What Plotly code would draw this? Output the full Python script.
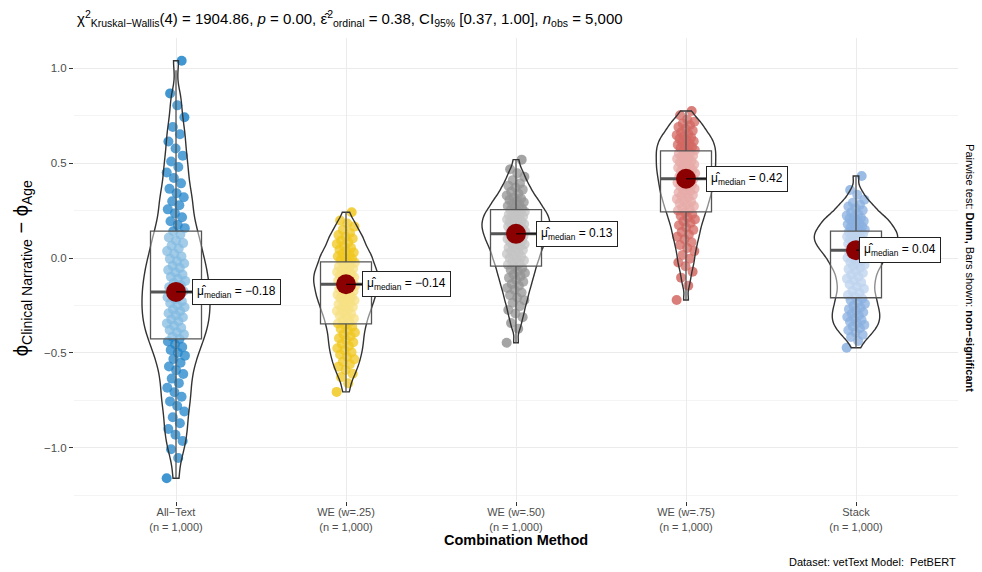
import plotly.graph_objects as go

# ---------------- data ----------------
categories = ["All−Text", "WE (w=.25)", "WE (w=.50)", "WE (w=.75)", "Stack"]
n_per_group = [1000, 1000, 1000, 1000, 1000]

# estimated sample percentiles per group (min, 1%, 2%, ..., 99%, max)
all_text_vals = [-1.16, -1.053, -1.007, -0.964, -0.931, -0.901, -0.870, -0.839, -0.808, -0.779,
                 -0.755, -0.731, -0.707, -0.683, -0.659, -0.635, -0.611, -0.591, -0.571, -0.551,
                 -0.532, -0.514, -0.499, -0.484, -0.469, -0.454, -0.439, -0.426, -0.414, -0.402,
                 -0.391, -0.379, -0.367, -0.356, -0.344, -0.333, -0.323, -0.312, -0.301, -0.291,
                 -0.280, -0.270, -0.259, -0.249, -0.238, -0.227, -0.216, -0.206, -0.195, -0.185,
                 -0.175, -0.164, -0.153, -0.142, -0.131, -0.120, -0.109, -0.098, -0.087, -0.075,
                 -0.063, -0.052, -0.040, -0.028, -0.016, -0.004, 0.009, 0.023, 0.037, 0.051,
                 0.065, 0.079, 0.093, 0.109, 0.125, 0.142, 0.158, 0.175, 0.194, 0.215,
                 0.236, 0.257, 0.279, 0.300, 0.321, 0.342, 0.365, 0.394, 0.422, 0.451,
                 0.480, 0.509, 0.540, 0.578, 0.615, 0.653, 0.691, 0.742, 0.805, 0.868, 1.04]
we25_vals = [-0.705, -0.660, -0.627, -0.609, -0.590, -0.572, -0.559, -0.546, -0.533, -0.520,
             -0.508, -0.496, -0.485, -0.475, -0.464, -0.453, -0.443, -0.432, -0.422, -0.412,
             -0.402, -0.392, -0.382, -0.372, -0.362, -0.353, -0.345, -0.336, -0.328, -0.319,
             -0.311, -0.302, -0.293, -0.286, -0.279, -0.272, -0.265, -0.258, -0.251, -0.244,
             -0.237, -0.230, -0.223, -0.217, -0.211, -0.205, -0.199, -0.193, -0.187, -0.181,
             -0.175, -0.169, -0.163, -0.157, -0.151, -0.145, -0.140, -0.134, -0.129, -0.123,
             -0.118, -0.112, -0.107, -0.101, -0.096, -0.090, -0.084, -0.079, -0.073, -0.067,
             -0.062, -0.056, -0.051, -0.044, -0.037, -0.031, -0.024, -0.017, -0.011, -0.004,
             0.003, 0.010, 0.017, 0.023, 0.030, 0.037, 0.045, 0.055, 0.064, 0.074,
             0.083, 0.093, 0.103, 0.113, 0.122, 0.133, 0.150, 0.166, 0.182, 0.198, 0.242]
we50_vals = [-0.446, -0.372, -0.342, -0.311, -0.292, -0.273, -0.253, -0.235, -0.222, -0.208,
             -0.195, -0.181, -0.167, -0.157, -0.146, -0.136, -0.125, -0.115, -0.104, -0.095,
             -0.086, -0.078, -0.069, -0.061, -0.052, -0.044, -0.035, -0.027, -0.019, -0.012,
             -0.006, 0.001, 0.008, 0.015, 0.022, 0.029, 0.036, 0.043, 0.049, 0.055,
             0.061, 0.067, 0.073, 0.078, 0.084, 0.090, 0.096, 0.101, 0.106, 0.111,
             0.116, 0.121, 0.126, 0.132, 0.137, 0.142, 0.147, 0.152, 0.156, 0.161,
             0.166, 0.170, 0.175, 0.180, 0.184, 0.189, 0.194, 0.199, 0.204, 0.209,
             0.214, 0.219, 0.224, 0.229, 0.234, 0.239, 0.244, 0.249, 0.253, 0.261,
             0.267, 0.274, 0.281, 0.287, 0.294, 0.301, 0.307, 0.314, 0.320, 0.330,
             0.340, 0.351, 0.361, 0.372, 0.382, 0.393, 0.411, 0.429, 0.447, 0.468, 0.519]
we75_vals = [-0.221, -0.145, -0.103, -0.072, -0.043, -0.023, -0.003, 0.017, 0.037, 0.053,
             0.069, 0.084, 0.099, 0.113, 0.125, 0.137, 0.149, 0.161, 0.173, 0.185,
             0.194, 0.204, 0.213, 0.223, 0.232, 0.241, 0.251, 0.259, 0.266, 0.274,
             0.282, 0.289, 0.297, 0.304, 0.312, 0.320, 0.327, 0.333, 0.340, 0.346,
             0.353, 0.359, 0.366, 0.373, 0.379, 0.386, 0.392, 0.398, 0.404, 0.411,
             0.417, 0.423, 0.429, 0.435, 0.441, 0.447, 0.453, 0.459, 0.465, 0.471,
             0.476, 0.482, 0.488, 0.494, 0.499, 0.505, 0.511, 0.517, 0.523, 0.528,
             0.534, 0.540, 0.546, 0.551, 0.557, 0.563, 0.569, 0.574, 0.580, 0.586,
             0.592, 0.597, 0.603, 0.610, 0.616, 0.622, 0.629, 0.635, 0.642, 0.648,
             0.654, 0.663, 0.672, 0.682, 0.691, 0.700, 0.710, 0.719, 0.731, 0.753, 0.775]
stack_vals = [-0.472, -0.437, -0.416, -0.404, -0.392, -0.380, -0.369, -0.360, -0.352, -0.343,
              -0.335, -0.326, -0.318, -0.310, -0.302, -0.293, -0.285, -0.277, -0.269, -0.260,
              -0.251, -0.241, -0.232, -0.222, -0.213, -0.204, -0.194, -0.183, -0.172, -0.161,
              -0.150, -0.139, -0.128, -0.118, -0.108, -0.098, -0.088, -0.078, -0.068, -0.058,
              -0.050, -0.042, -0.035, -0.028, -0.020, -0.013, -0.006, 0.002, 0.009, 0.016,
              0.022, 0.027, 0.033, 0.038, 0.044, 0.050, 0.055, 0.061, 0.066, 0.071,
              0.076, 0.080, 0.085, 0.090, 0.094, 0.099, 0.104, 0.108, 0.113, 0.118,
              0.122, 0.127, 0.132, 0.137, 0.141, 0.146, 0.150, 0.155, 0.161, 0.166,
              0.172, 0.178, 0.184, 0.189, 0.195, 0.201, 0.207, 0.212, 0.218, 0.224,
              0.232, 0.242, 0.252, 0.262, 0.272, 0.282, 0.292, 0.308, 0.334, 0.359, 0.433]

# box statistics
q1 = [-0.426, -0.347, -0.042, 0.244, -0.209]
medians = [-0.178, -0.138, 0.128, 0.418, 0.042]
q3 = [0.142, -0.020, 0.256, 0.565, 0.142]
lower_whisker = [-1.16, -0.705, -0.446, -0.221, -0.472]
upper_whisker = [0.99, 0.242, 0.519, 0.775, 0.433]

title_text = ("χ<sup>2</sup><sub>Kruskal−Wallis</sub>(4) = 1904.86, <i>p</i> = 0.00, "
              "ε̂<sup>2</sup><sub>ordinal</sub> = 0.38, CI<sub>95%</sub> [0.37, 1.00], "
              "<i>n</i><sub>obs</sub> = 5,000")
y_title = "ϕ<sub>Clinical Narrative</sub> − ϕ<sub>Age</sub>"
x_title = "<b>Combination Method</b>"
side_text = "Pairwise test: <b>Dunn,</b> Bars shown: <b>non−significant</b>"
caption = "Dataset: vetText Model:  PetBERT"

# ---------------- styling ----------------
groups = [all_text_vals, we25_vals, we50_vals, we75_vals, stack_vals]
colors = ["#0073C2", "#EFC000", "#868686", "#CD534C", "#7AA6DC"]
bandwidths = [0.06, 0.032, 0.03, 0.03, 0.03]
violin_widths = [0.4, 0.38, 0.4, 0.35, 0.49]   # full width of each violin (x units)
label_offsets = [16, 16, 20, 20, 3]
FONT = "Liberation Sans, Arial, sans-serif"
positions = list(range(1, len(categories) + 1))
jitter_half = 0.055
box_half = 0.15
XR = [0.4, 5.6]
YR = [-1.28, 1.16]

fig = go.Figure()

# jittered points (base axes, drawn underneath)
for pos, vals, col in zip(positions, groups, colors):
    offs = [((k * 0.6180339887) % 1.0 - 0.5) * 2 * jitter_half for k in range(len(vals))]
    fig.add_trace(go.Scatter(
        x=[pos + o for o in offs], y=vals, mode="markers",
        marker=dict(size=10, color=col, opacity=0.75, line=dict(width=0)),
        showlegend=False, hoverinfo="skip", xaxis="x", yaxis="y"))

# violins (overlay axes), each scaled on its own
for i, (pos, vals, bw, w) in enumerate(zip(positions, groups, bandwidths, violin_widths)):
    fig.add_trace(go.Violin(
        x=[pos] * len(vals), y=vals, width=w, scalemode="width", scalegroup=f"v{i}",
        spanmode="hard", bandwidth=bw, points=False,
        line=dict(color="#333333", width=1.4), fillcolor="rgba(255,255,255,0.12)",
        box=dict(visible=False), meanline=dict(visible=False),
        showlegend=False, hoverinfo="skip", xaxis="x2", yaxis="y2"))

# boxes
for i, pos in enumerate(positions):
    fig.add_trace(go.Box(
        x=[pos], q1=[q1[i]], median=[medians[i]], q3=[q3[i]],
        lowerfence=[lower_whisker[i]], upperfence=[upper_whisker[i]],
        width=2 * box_half, whiskerwidth=0, boxpoints=False,
        line=dict(color="#555555", width=1.3), fillcolor="rgba(255,255,255,0.45)",
        showlegend=False, hoverinfo="skip", xaxis="x2", yaxis="y2"))

# thick median lines
for i, pos in enumerate(positions):
    fig.add_trace(go.Scatter(
        x=[pos - box_half, pos + box_half], y=[medians[i], medians[i]], mode="lines",
        line=dict(color="#555555", width=3), showlegend=False, hoverinfo="skip",
        xaxis="x2", yaxis="y2"))

# median dots
fig.add_trace(go.Scatter(
    x=positions, y=medians, mode="markers",
    marker=dict(size=20, color="#8B0000", line=dict(width=0)),
    showlegend=False, hoverinfo="skip", xaxis="x2", yaxis="y2"))

# median labels
for i, pos in enumerate(positions):
    m = medians[i]
    txt = f"{m:.2f}".replace("-", "−")
    fig.add_annotation(
        x=pos, y=m, xref="x", yref="y",
        text=f"μ̂<sub>median</sub> = {txt}",
        showarrow=True, arrowhead=0, arrowwidth=1, arrowcolor="black",
        ax=label_offsets[i], ay=0, xanchor="left", yanchor="middle",
        bgcolor="white", bordercolor="#222222", borderwidth=1, borderpad=4,
        font=dict(family=FONT, size=12, color="black"))

fig.update_layout(
    width=982, height=572,
    margin=dict(l=74, r=24, t=38, b=71),
    paper_bgcolor="white", plot_bgcolor="white",
    font=dict(family=FONT, color="#4D4D4D"),
    boxmode="overlay", violinmode="overlay",
    xaxis=dict(range=XR, tickmode="array", tickvals=positions,
               ticktext=[f"{c}<br>(n = {n:,})" for c, n in zip(categories, n_per_group)],
               tickfont=dict(size=11, color="#4D4D4D"),
               ticks="outside", ticklen=4, tickcolor="#333333", ticklabelstandoff=-3,
               showgrid=True, gridcolor="#EBEBEB", gridwidth=1,
               zeroline=False, showline=False),
    yaxis=dict(range=YR, tickmode="linear", tick0=0, dtick=0.5, tickformat=".1f",
               tickfont=dict(size=11.5, color="#4D4D4D"),
               ticks="outside", ticklen=4, tickcolor="#333333",
               showgrid=True, gridcolor="#EBEBEB", gridwidth=1,
               minor=dict(tick0=0.25, dtick=0.5, showgrid=True, gridcolor="#F4F4F4", gridwidth=1),
               zeroline=False, showline=False),
    xaxis2=dict(range=XR, overlaying="x", visible=False),
    yaxis2=dict(range=YR, overlaying="y", visible=False),
)

fig.add_annotation(x=0.001, y=1.043, xref="paper", yref="paper", xanchor="left", yanchor="middle",
                   text=title_text, showarrow=False, font=dict(family=FONT, size=15, color="black"))
fig.add_annotation(x=-0.0588, y=0.503, xref="paper", yref="paper", text=y_title, textangle=-90,
                   showarrow=False, xanchor="center", yanchor="middle",
                   font=dict(family=FONT, size=20, color="black"))
fig.add_annotation(x=0.5, y=-0.0842, xref="paper", yref="paper", text=x_title, showarrow=False,
                   xanchor="center", yanchor="middle", font=dict(family=FONT, size=14.5, color="black"))
fig.add_annotation(x=1.0136, y=0.503, xref="paper", yref="paper", text=side_text, textangle=90,
                   showarrow=False, xanchor="center", yanchor="middle",
                   font=dict(family=FONT, size=11, color="black"))
fig.add_annotation(x=1.0, y=-0.1318, xref="paper", yref="paper", text=caption, showarrow=False,
                   xanchor="right", yanchor="middle", font=dict(family=FONT, size=11, color="black"))

fig.write_html("out.html", config={"displayModeBar": False},
               post_script="document.body.style.margin='0';document.body.style.padding='0';")
